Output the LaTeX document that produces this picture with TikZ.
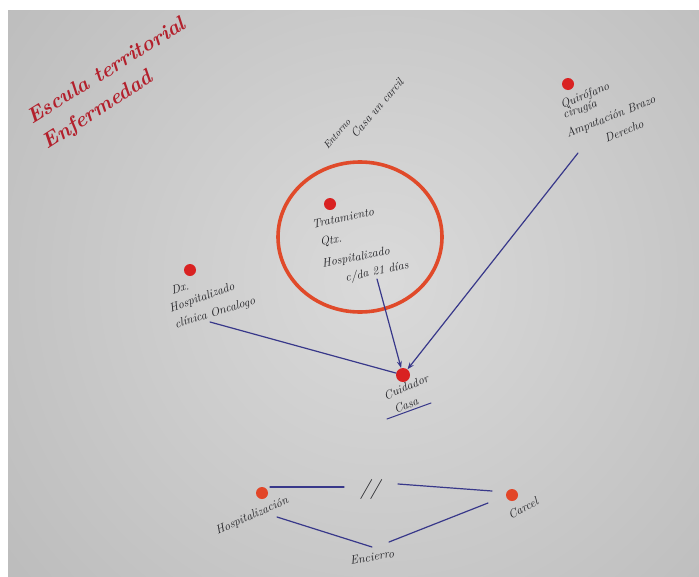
\documentclass[tikz,border=0pt]{standalone}
\usetikzlibrary{arrows.meta}
\definecolor{pcenter}{HTML}{DADADA}
\definecolor{pedge}{HTML}{A2A2A2}
\definecolor{marker}{HTML}{B3202C}
\definecolor{dotred}{HTML}{D92222}
\definecolor{ring}{HTML}{E04A2A}
\definecolor{ink}{HTML}{38388A}
\definecolor{pen}{HTML}{1E1E22}
\begin{document}
\begin{tikzpicture}[x=1pt,y=-1pt,
  hand/.style={inner sep=0pt, text=pen, font=\fontsize{12}{13}\selectfont\itshape},
  title/.style={inner sep=0pt, text=marker, font=\fontsize{21}{23}\selectfont\itshape\bfseries},
  dot/.style={circle, fill=dotred, draw=none, minimum size=12pt, inner sep=0pt},
  odot/.style={dot, fill=ring!95!red},
  conn/.style={draw=ink, line width=1.2pt, line cap=round},
  arr/.style={conn, -{Stealth[length=7pt,width=5pt]}}]
\useasboundingbox (0,0) rectangle (699,576);
\fill[white] (0,0) rectangle (699,576);
% paper sheet
\begin{scope}
  \clip (8,10) rectangle (699,576);
  \shade[inner color=pcenter, outer color=pedge] (380,280) circle [radius=900];
\end{scope}

% heading
\node[title, rotate=32] (t1) at (106,70) {Escula territorial};
\node[title, rotate=33] (t2) at (98,111) {Enfermedad};

% note above the ring
\node[hand, font=\fontsize{10}{11}\selectfont\itshape, rotate=49] (env1) at (337,134) {Entorno};
\node[hand, font=\fontsize{12}{13}\selectfont\itshape, rotate=49] (env2) at (377,108) {Casa un carcil};

% treatment ring
\draw[ring, line width=3.6pt] (360,237) ellipse [x radius=82, y radius=75];
\node[dot] (dtreat) at (330,204) {};
\node[hand, rotate=12] (tr1) at (343,218) {Tratamiento};
\node[hand, rotate=10] (tr2) at (331,241) {Qtx.};
\node[hand, rotate=11] (tr3) at (356,258) {Hospitalizado};
\node[hand, rotate=12] (tr4) at (377,272) {c/da 21 días};

% surgery
\node[dot] (dsurg) at (568,84) {};
\node[hand, rotate=22] (s1) at (585,96) {Quirófano};
\node[hand, rotate=20] (s2) at (580,110) {cirugía};
\node[hand, rotate=22] (s3) at (611,117) {Amputación Brazo};
\node[hand, rotate=22] (s4) at (624,131) {Derecho};

% diagnosis
\node[dot] (ddx) at (190,270) {};
\node[hand, rotate=15] (d1) at (180,288) {Dx.};
\node[hand, rotate=20] (d2) at (202,298) {Hospitalizado};
\node[hand, rotate=17] (d3) at (215,313) {clínica Oncalogo};

% caregiver at home
\node[dot, minimum size=14pt] (dcare) at (403,375) {};
\node[hand, rotate=23] (c1) at (406,387) {Cuidador};
\node[hand, rotate=23] (c2) at (406,405) {Casa};
\coordinate (u1) at (387,419);
\coordinate (u2) at (431,403);
\draw[conn, line width=1pt] (u1) -- (u2);

\coordinate (atreat) at (377,279);
\coordinate (asurg) at (578,153);
\coordinate (adx) at (210,322);
\draw[arr] (atreat) -- (dcare);
\draw[arr] (asurg) -- (dcare);
\draw[conn] (adx) -- (dcare);

% hospital versus prison
\node[odot] (dhosp) at (262,493) {};
\node[hand, rotate=24] (h1) at (252,516) {Hospitalización};
\node[odot] (dprison) at (512,495) {};
\node[hand, rotate=28] (p1) at (523,508) {Carcel};
\node[hand, font=\fontsize{20}{22}\selectfont\itshape] (eq) at (370,489) {//};
\node[hand, rotate=10] (enc) at (372,557) {Encierro};

\coordinate (l1a) at (270,487);
\coordinate (l1b) at (344,487);
\coordinate (l2a) at (398,484);
\coordinate (l2b) at (492,491);
\coordinate (l3a) at (277,517);
\coordinate (l3b) at (372,547);
\coordinate (l4a) at (389,542);
\coordinate (l4b) at (488,503);
\draw[conn] (l1a) -- (l1b);
\draw[conn] (l2a) -- (l2b);
\draw[conn] (l3a) -- (l3b);
\draw[conn] (l4a) -- (l4b);
\end{tikzpicture}
\end{document}
